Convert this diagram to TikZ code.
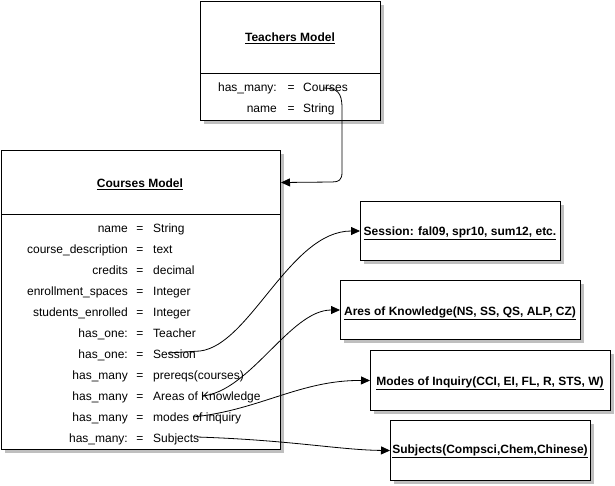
\documentclass[tikz,border=0pt]{standalone}
\usepackage{fontspec}
\setmainfont{Liberation Sans}
\usetikzlibrary{shadows,arrows.meta}
\begin{document}
\begin{tikzpicture}[x=1pt,y=-1pt,
  box/.style={draw=black, line width=1pt, fill=white, inner sep=0pt, anchor=north west,
    drop shadow={shadow xshift=3.5pt, shadow yshift=-3.5pt, fill=black!25, opacity=1}},
  ttl/.style={anchor=base, inner sep=0pt, font=\fontsize{12pt}{14pt}\selectfont\bfseries},
  lbl/.style={anchor=base east, inner sep=0pt, font=\fontsize{12pt}{14pt}\selectfont},
  eqs/.style={anchor=base, inner sep=0pt, font=\fontsize{12pt}{14pt}\selectfont},
  val/.style={anchor=base west, inner sep=0pt, font=\fontsize{12pt}{14pt}\selectfont},
  conn/.style={draw=black, line width=0.8pt, -{Triangle[length=9pt,width=8pt]}}]
\useasboundingbox (0,0) rectangle (615,485);

% Teachers model
\node[box, minimum width=180pt, minimum height=73pt] (tHead) at (200,0.5) {};
\node[box, minimum width=180pt, minimum height=47pt] (tBody) at (200,73) {};
\node[ttl] (tTitle) at (290,41.5) {\underline{Teachers Model}};
\node[lbl] (tl1) at (277,91.5) {has\_many:};
\node[eqs] (te1) at (291,91.5) {=};
\node[val] (tv1) at (303,91.5) {Courses};
\node[lbl] (tl2) at (277,112) {name};
\node[eqs] (te2) at (291,112) {=};
\node[val] (tv2) at (303,112) {String};

% Courses model
\node[box, minimum width=279.5pt, minimum height=64pt] (cHead) at (0.5,150) {};
\node[box, minimum width=279.5pt, minimum height=235pt] (cBody) at (0.5,214) {};
\node[ttl] (cTitle) at (140,187.5) {\underline{Courses Model}};
\foreach \i/\l/\v in {0/name/String, 1/course\_description/text, 2/credits/decimal,
  3/enrollment\_spaces/Integer, 4/students\_enrolled/Integer, 5/has\_one:/Teacher,
  6/has\_one:/Session, 7/has\_many/prereqs(courses), 8/has\_many/Areas of Knowledge,
  9/has\_many/modes of inquiry, 10/has\_many:/Subjects}{
  \node[lbl] (cl\i) at (128,232.5+21*\i) {\l};
  \node[eqs] (ce\i) at (140,232.5+21*\i) {=};
  \node[val] (cv\i) at (153,232.5+21*\i) {\v};
}

% Right-hand boxes
\node[box, minimum width=200pt, minimum height=59pt] (sess) at (360,201) {};
\node[ttl] (sessT) at (460,235.5) {\underline{Session: fal09, spr10, sum12, etc.}};
\node[box, minimum width=240pt, minimum height=59pt] (area) at (340,280) {};
\node[ttl] (areaT) at (460,315.5) {\underline{Ares of Knowledge(NS, SS, QS, ALP, CZ)}};
\node[box, minimum width=240pt, minimum height=60pt] (mode) at (370,350) {};
\node[ttl] (modeT) at (490,385.5) {\underline{Modes of Inquiry(CCI, EI, FL, R, STS, W)}};
\node[box, minimum width=200pt, minimum height=60pt] (subj) at (390,420) {};
\node[ttl] (subjT) at (490,453.5) {\underline{Subjects(Compsci,Chem,Chinese)}};

% connector start points
\coordinate (pT) at (323,88);
\coordinate (pS) at (168,353);
\coordinate (pA) at (202,396);
\coordinate (pM) at (193,417);
\coordinate (pJ) at (197,437);

% connectors
\draw[conn] (pT) .. controls (337,88) and (342,92) .. (342,108) -- (342,172)
  .. controls (342,180) and (339,182) .. (332,182) -- (cHead.east);
\draw[conn] (pS) -- (200,351) .. controls (250,345) and (290,231) .. (sess.west);
\draw[conn] (pA) .. controls (250,392) and (290,310) .. (area.west);
\draw[conn] (pM) .. controls (260,410) and (300,380) .. (mode.west);
\draw[conn] (pJ) .. controls (290,440) and (340,450) .. (subj.west);
\end{tikzpicture}
\end{document}
